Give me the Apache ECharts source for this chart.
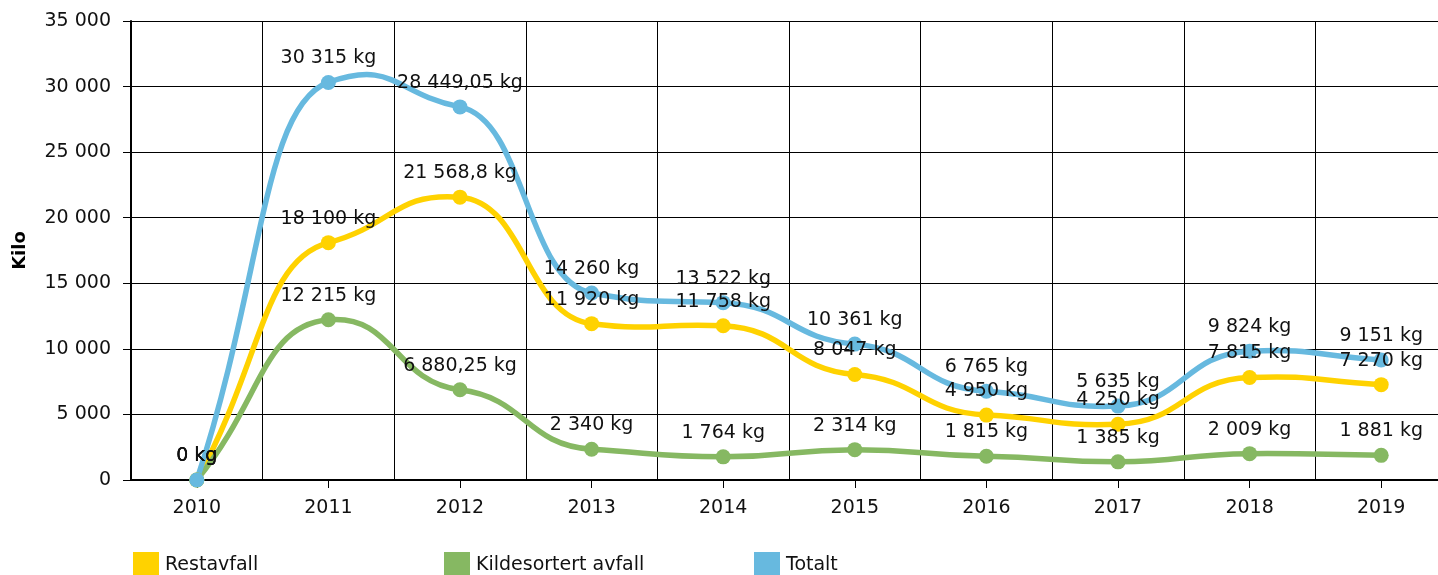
<!DOCTYPE html>
<html>
<head>
<meta charset="utf-8">
<script src="https://cdn.jsdelivr.net/npm/echarts@6/dist/echarts.min.js"></script>
<style>
  html, body { margin: 0; padding: 0; background: #fff; overflow: hidden; }
  /* plot runs past the right edge of the window, like the original */
  #chart { width: 1447px; height: 575px; }
</style>
</head>
<body>
<div id="chart"></div>
<script>
const years = ["2010", "2011", "2012", "2013", "2014", "2015", "2016", "2017", "2018", "2019"];
const restavfall = [0, 18100, 21568.8, 11920, 11758, 8047, 4950, 4250, 7815, 7270];
const kildesortert = [0, 12215, 6880.25, 2340, 1764, 2314, 1815, 1385, 2009, 1881];
const totalt = [0, 30315, 28449.05, 14260, 13522, 10361, 6765, 5635, 9824, 9151];

const FONT = "DejaVu Sans, Verdana, sans-serif";
const SLOPE_K = 0.25; // how much of the neighbour slope is kept at each point
const CP_X = 0.5;     // control point distance, share of the category width

// 28449.05 -> "28 449,05"
function fmt(v) {
  const parts = String(v).split(".");
  const int = parts[0].replace(/\B(?=(\d{3})+(?!\d))/g, " ");
  return parts.length > 1 ? int + "," + parts[1] : int;
}

const chart = echarts.init(document.getElementById("chart"));

// slope (px per px) at point k; end points just follow the chord
function slopeAt(pts, k) {
  const n = pts.length;
  if (k === 0) return (pts[1][1] - pts[0][1]) / (pts[1][0] - pts[0][0]);
  if (k === n - 1) return (pts[n - 1][1] - pts[n - 2][1]) / (pts[n - 1][0] - pts[n - 2][0]);
  return SLOPE_K * (pts[k + 1][1] - pts[k - 1][1]) / (pts[k + 1][0] - pts[k - 1][0]);
}

function curveSeries(name, values, color) {
  return {
    name: name,
    type: "custom",
    silent: true,
    data: values.map((v, i) => [i, v]),
    encode: { x: 0, y: 1 },
    renderItem: function (params, api) {
      const i = params.dataIndex;
      if (i >= values.length - 1) return null;
      const pts = values.map((v, k) => api.coord([k, v]));
      const dx = pts[i + 1][0] - pts[i][0];
      const s0 = slopeAt(pts, i);
      const s1 = slopeAt(pts, i + 1);
      return {
        type: "bezierCurve",
        shape: {
          x1: pts[i][0], y1: pts[i][1],
          x2: pts[i + 1][0], y2: pts[i + 1][1],
          cpx1: pts[i][0] + CP_X * dx, cpy1: pts[i][1] + s0 * CP_X * dx,
          cpx2: pts[i + 1][0] - CP_X * dx, cpy2: pts[i + 1][1] - s1 * CP_X * dx,
        },
        style: { stroke: color, lineWidth: 5.5, fill: null, lineCap: "round" },
      };
    },
  };
}

function dotSeries(name, values, color) {
  return {
    name: name,
    type: "line",
    data: values,
    symbol: "circle",
    symbolSize: 15,
    lineStyle: { width: 0, opacity: 0 },
    itemStyle: { color: color },
    label: {
      show: true,
      position: "top",
      distance: 7,
      color: "#111",
      fontFamily: FONT,
      fontSize: 19,
      formatter: (p) => fmt(p.value) + " kg",
    },
    emphasis: { disabled: true },
  };
}

function legendAt(left, name) {
  return {
    left: left,
    top: 552,
    padding: 0,
    icon: "rect",
    itemWidth: 26,
    itemHeight: 26,
    itemGap: 0,
    data: [name],
    textStyle: { fontFamily: FONT, fontSize: 19, color: "#111", padding: [0, 0, 0, 1] },
  };
}

chart.setOption({
  animation: false,
  legend: [
    legendAt(133, "Restavfall"),
    legendAt(444, "Kildesortert avfall"),
    legendAt(754, "Totalt"),
  ],
  grid: { left: 131, top: 21, right: 0, height: 459 },
  xAxis: {
    type: "category",
    data: years,
    boundaryGap: true,
    axisLine: { lineStyle: { color: "#000", width: 2 } },
    axisTick: { show: true, alignWithLabel: true, length: 8, lineStyle: { color: "#000", width: 1 } },
    axisLabel: { color: "#111", fontFamily: FONT, fontSize: 19, margin: 19 },
    splitLine: { show: true, lineStyle: { color: "#000", width: 1 } },
  },
  yAxis: {
    type: "value",
    min: 0,
    max: 35000,
    interval: 5000,
    name: "Kilo",
    nameLocation: "middle",
    nameGap: 102,
    nameTextStyle: { color: "#000", fontFamily: FONT, fontSize: 18, fontWeight: "bold" },
    axisLine: { show: true, lineStyle: { color: "#000", width: 2 } },
    axisTick: { show: true, length: 8, lineStyle: { color: "#000", width: 1 } },
    axisLabel: { color: "#111", fontFamily: FONT, fontSize: 19, margin: 20, formatter: (v) => fmt(v) },
    splitLine: { show: true, lineStyle: { color: "#000", width: 1 } },
  },
  series: [
    curveSeries("Restavfall line", restavfall, "#FFD200"),
    dotSeries("Restavfall", restavfall, "#FFD200"),
    curveSeries("Kildesortert line", kildesortert, "#86B862"),
    dotSeries("Kildesortert avfall", kildesortert, "#86B862"),
    curveSeries("Totalt line", totalt, "#67B9DF"),
    dotSeries("Totalt", totalt, "#67B9DF"),
  ],
});
</script>
</body>
</html>
